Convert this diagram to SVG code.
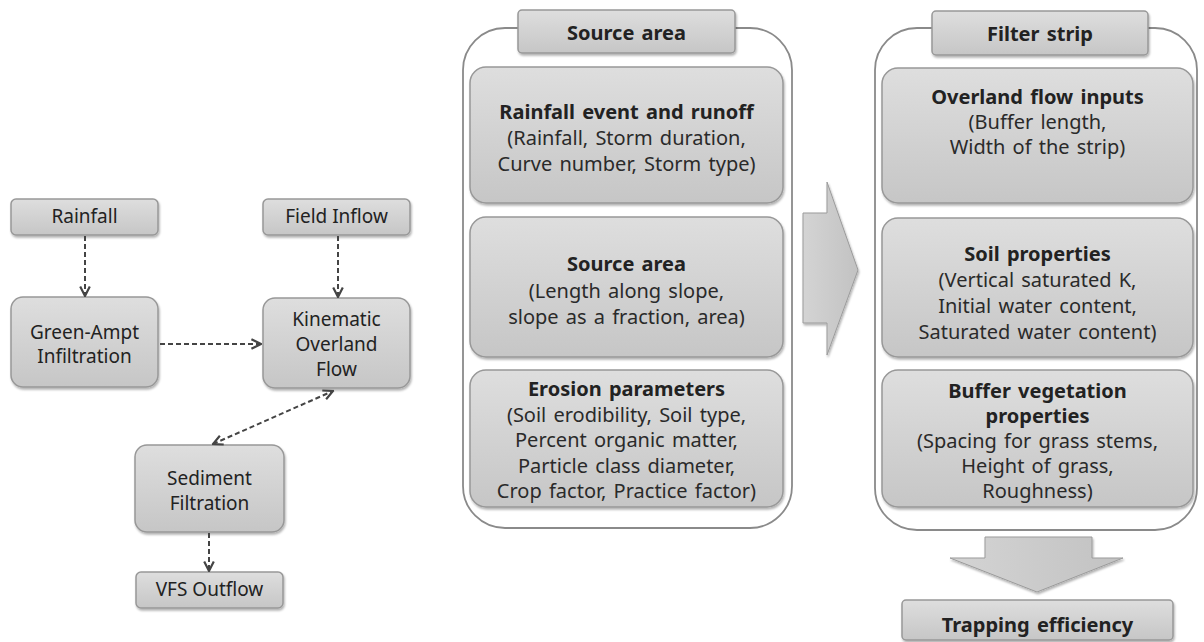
<svg xmlns="http://www.w3.org/2000/svg" width="1204" height="642" viewBox="0 0 1204 642">
<defs>
<linearGradient id="g" x1="0" y1="0" x2="0" y2="1">
<stop offset="0" stop-color="#dedede"/>
<stop offset="1" stop-color="#c6c6c6"/>
</linearGradient>
<linearGradient id="ga" x1="0" y1="0" x2="1" y2="0">
<stop offset="0" stop-color="#d4d4d4"/>
<stop offset="1" stop-color="#c2c2c2"/>
</linearGradient>
<filter id="sh" x="-10%" y="-10%" width="120%" height="130%">
<feDropShadow dx="1" dy="2" stdDeviation="1.2" flood-color="#000" flood-opacity="0.3"/>
</filter>
<marker id="ah" viewBox="0 0 10 10" refX="9" refY="5" markerWidth="12" markerHeight="12" markerUnits="userSpaceOnUse" orient="auto-start-reverse">
<path d="M1,1 L9,5 L1,9" fill="none" stroke="#444" stroke-width="1.8"/>
</marker>
</defs>
<style>
.box{fill:url(#g);stroke:#989898;stroke-width:1.5;filter:url(#sh)}
.cont{fill:#fff;stroke:#8a8a8a;stroke-width:1.8}
.t{font-family:"Noto Sans","Open Sans",sans-serif;font-size:19px;fill:#222;text-anchor:middle;dominant-baseline:central}
.h{font-family:"Noto Sans","Open Sans",sans-serif;font-size:20px;font-weight:bold;fill:#222;text-anchor:middle;dominant-baseline:central;word-spacing:2px}
.p{font-family:"Noto Sans","Open Sans",sans-serif;font-size:20px;fill:#2a2a2a;text-anchor:middle;dominant-baseline:central;word-spacing:2px}
.c{fill:none;stroke:#444;stroke-width:2;stroke-dasharray:5 3}
.arr{fill:url(#ga);stroke:#9b9b9b;stroke-width:1;filter:url(#sh)}
</style>
<rect width="1204" height="642" fill="#fff"/>

<g id="rainfall"><rect class="box" x="11" y="199" width="147" height="36" rx="5"/><text class="t" x="84.5" y="216">Rainfall</text></g>
<g id="field-inflow"><rect class="box" x="263" y="199" width="147" height="36" rx="5"/><text class="t" x="336.5" y="216">Field Inflow</text></g>
<g id="green-ampt"><rect class="box" x="11" y="297" width="147" height="90" rx="12"/><text class="t" x="84.5" y="332">Green-Ampt</text><text class="t" x="84.5" y="356">Infiltration</text></g>
<g id="kinematic"><rect class="box" x="263" y="298" width="147" height="90" rx="12"/><text class="t" x="336.5" y="319">Kinematic</text><text class="t" x="336.5" y="344">Overland</text><text class="t" x="336.5" y="369">Flow</text></g>
<g id="sediment"><rect class="box" x="135" y="445" width="149" height="87" rx="12"/><text class="t" x="209.5" y="478">Sediment</text><text class="t" x="209.5" y="503">Filtration</text></g>
<g id="vfs-outflow"><rect class="box" x="136" y="572" width="147" height="36" rx="5"/><text class="t" x="209.5" y="589">VFS Outflow</text></g>

<g id="connectors">
<line class="c" x1="85" y1="236" x2="85" y2="296" marker-end="url(#ah)"/>
<line class="c" x1="338" y1="236" x2="338" y2="297" marker-end="url(#ah)"/>
<line class="c" x1="160" y1="344" x2="261" y2="344" marker-end="url(#ah)"/>
<line class="c" x1="213" y1="444" x2="333" y2="391" marker-start="url(#ah)" marker-end="url(#ah)"/>
<line class="c" x1="209" y1="533" x2="209" y2="571" marker-end="url(#ah)"/>
<path class="arr" d="M803,213 L827,213 L827,182 L858,270 L827,355 L827,323 L803,323 Z"/>
<path class="arr" d="M985,537 L1092,537 L1092,558 L1123,558 L1037,592 L950,558 L985,558 Z"/>
</g>

<g id="source-area">
<rect class="cont" x="463" y="28" width="329" height="500" rx="42"/>
<rect class="box" x="518" y="10" width="217" height="43" rx="4"/>
<text class="h" x="626.5" y="32">Source area</text>
</g>
<g id="rainfall-event">
<rect class="box" x="470" y="67" width="313" height="136" rx="16"/>
<text class="h" x="626.5" y="111">Rainfall event and runoff</text>
<text class="p" x="626.5" y="137">(Rainfall, Storm duration,</text>
<text class="p" x="626.5" y="163">Curve number, Storm type)</text>
</g>
<g id="source-area-box">
<rect class="box" x="470" y="217" width="313" height="140" rx="16"/>
<text class="h" x="626.5" y="263">Source area</text>
<text class="p" x="626.5" y="290">(Length along slope,</text>
<text class="p" x="626.5" y="316">slope as a fraction, area)</text>
</g>
<g id="erosion">
<rect class="box" x="470" y="370" width="313" height="137" rx="16"/>
<text class="h" x="626.5" y="388">Erosion parameters</text>
<text class="p" x="626.5" y="414">(Soil erodibility, Soil type,</text>
<text class="p" x="626.5" y="439.5">Percent organic matter,</text>
<text class="p" x="626.5" y="465">Particle class diameter,</text>
<text class="p" x="626.5" y="490.5">Crop factor, Practice factor)</text>
</g>

<g id="filter-strip">
<rect class="cont" x="875" y="28" width="322" height="502" rx="42"/>
<rect class="box" x="932" y="11" width="216" height="44" rx="4"/>
<text class="h" x="1040" y="33">Filter strip</text>
</g>
<g id="overland-inputs">
<rect class="box" x="882" y="68" width="311" height="135" rx="16"/>
<text class="h" x="1037.5" y="96">Overland flow inputs</text>
<text class="p" x="1037.5" y="121">(Buffer length,</text>
<text class="p" x="1037.5" y="146">Width of the strip)</text>
</g>
<g id="soil-properties">
<rect class="box" x="882" y="218" width="311" height="139" rx="16"/>
<text class="h" x="1037.5" y="253">Soil properties</text>
<text class="p" x="1037.5" y="279">(Vertical saturated K,</text>
<text class="p" x="1037.5" y="305">Initial water content,</text>
<text class="p" x="1037.5" y="331">Saturated water content)</text>
</g>
<g id="buffer-vegetation">
<rect class="box" x="882" y="370" width="311" height="137" rx="16"/>
<text class="h" x="1037.5" y="390">Buffer vegetation</text>
<text class="h" x="1037.5" y="415">properties</text>
<text class="p" x="1037.5" y="440">(Spacing for grass stems,</text>
<text class="p" x="1037.5" y="465">Height of grass,</text>
<text class="p" x="1037.5" y="490">Roughness)</text>
</g>
<g id="trapping-efficiency">
<rect class="box" x="902" y="600" width="271" height="40" rx="4"/>
<text class="h" x="1037.5" y="624">Trapping efficiency</text>
</g>
</svg>
